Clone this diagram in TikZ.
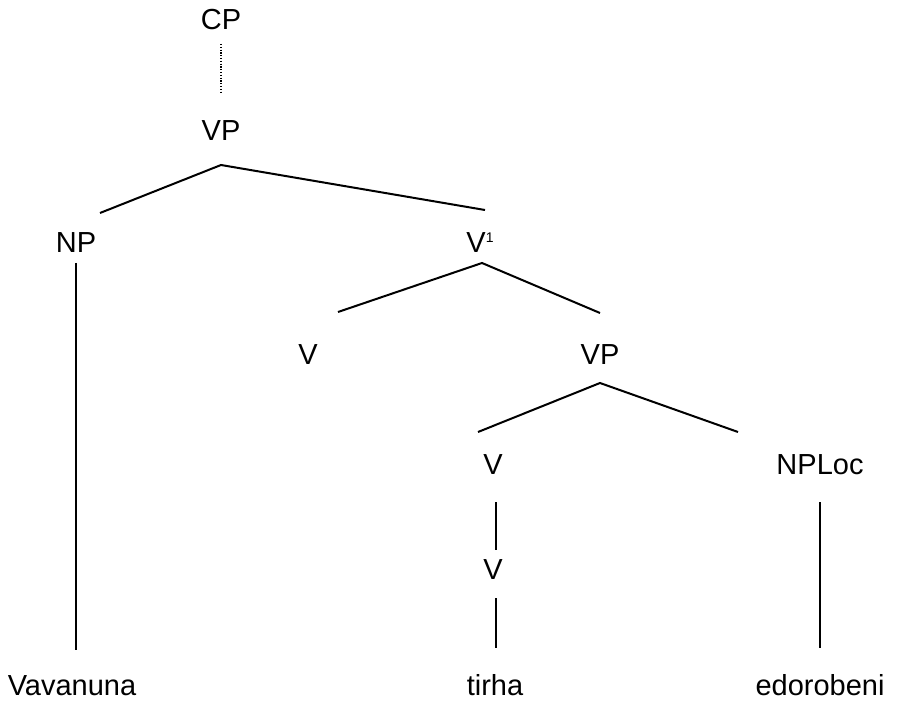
\documentclass[tikz,border=0pt]{standalone}
\usepackage{fontspec}
\setmainfont{Liberation Sans}
\begin{document}
\begin{tikzpicture}[x=1pt,y=-1pt,
  lab/.style={font=\fontsize{29}{34}\selectfont, inner sep=0pt, anchor=base},
  edge/.style={line width=2pt},
  dots/.style={line width=2pt, dash pattern=on 1.2pt off 1.6pt}]
\useasboundingbox (0,0) rectangle (919,703);
% nodes
\node[lab] (cp) at (221,30) {CP};
\node[lab] (vp1) at (221,141) {VP};
\node[lab] (np) at (76,253) {NP};
\node[lab] (vbar) at (480,253) {V\raisebox{10.5pt}{\fontsize{14}{16}\selectfont 1}};
\node[lab] (v1) at (308,365) {V};
\node[lab] (vp2) at (600,365) {VP};
\node[lab] (v2) at (493,475) {V};
\node[lab] (nploc) at (820,475) {NPLoc};
\node[lab] (v3) at (493,579) {V};
\node[lab] (w1) at (72,695) {Vavanuna};
\node[lab] (w2) at (495,695) {tirha};
\node[lab] (w3) at (820,695) {edorobeni};
% end points
\coordinate (cpb) at (221,44);
\coordinate (vpt) at (221,93);
\coordinate (a1) at (221,165);
\coordinate (a1l) at (100,213);
\coordinate (a1r) at (485,210);
\coordinate (a2) at (482,263);
\coordinate (a2l) at (338,312);
\coordinate (a2r) at (600,313);
\coordinate (a3) at (600,383);
\coordinate (a3l) at (478,432);
\coordinate (a3r) at (738,432);
\coordinate (npb) at (76,263);
\coordinate (w1t) at (76,650);
\coordinate (v2b) at (496,502);
\coordinate (v3t) at (496,550);
\coordinate (v3b) at (496,598);
\coordinate (w2t) at (496,648);
\coordinate (nlb) at (820,502);
\coordinate (w3t) at (820,648);
% connectors
\draw[dots] (cpb) -- (vpt);
\draw[edge] (a1l) -- (a1) -- (a1r);
\draw[edge] (a2l) -- (a2) -- (a2r);
\draw[edge] (a3l) -- (a3) -- (a3r);
\draw[edge] (npb) -- (w1t);
\draw[edge] (v2b) -- (v3t);
\draw[edge] (v3b) -- (w2t);
\draw[edge] (nlb) -- (w3t);
\end{tikzpicture}
\end{document}
